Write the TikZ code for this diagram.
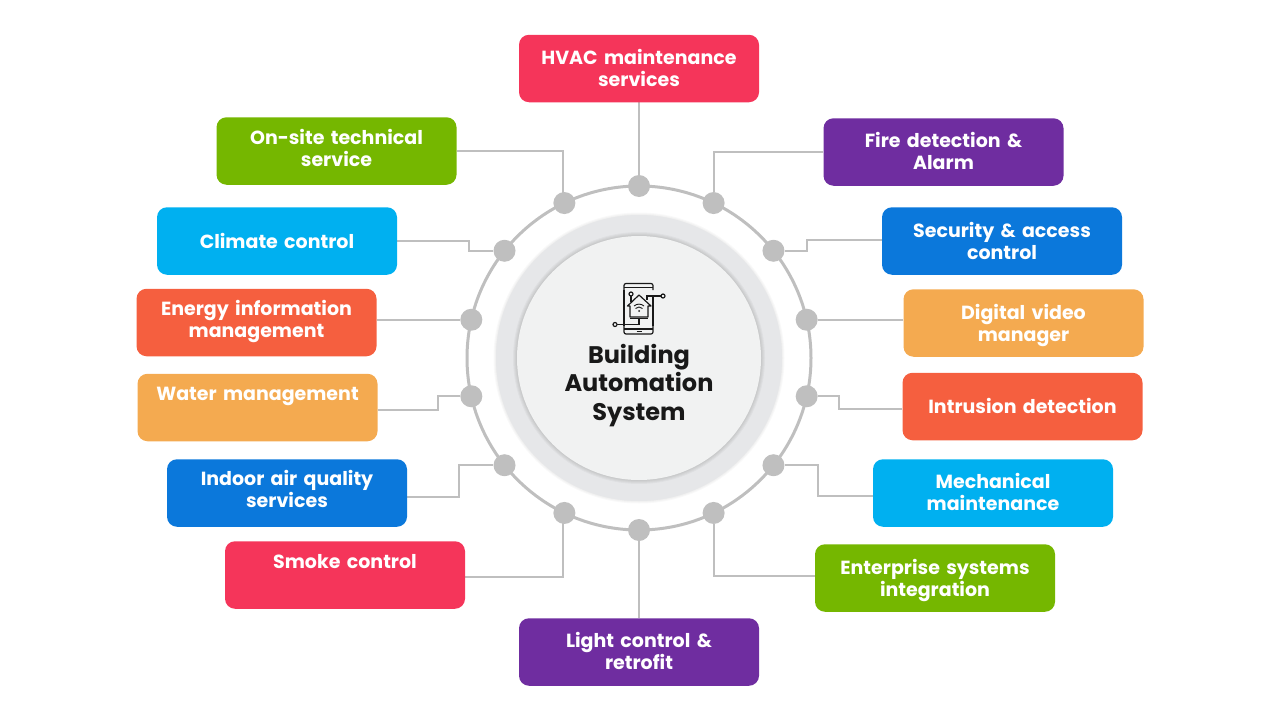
\documentclass[tikz,border=0pt]{standalone}
\usepackage{fontspec}
\setmainfont{Poppins}
\definecolor{crimson}{HTML}{F5355A}
\definecolor{grape}{HTML}{6F2DA0}
\definecolor{leaf}{HTML}{75B700}
\definecolor{royal}{HTML}{0B78DB}
\definecolor{sky}{HTML}{00B0F0}
\definecolor{coral}{HTML}{F55F3F}
\definecolor{sand}{HTML}{F4AA50}
\definecolor{wiregray}{HTML}{BFBFBF}
\definecolor{rimgray}{HTML}{E6E7E9}
\definecolor{facegray}{HTML}{F1F2F2}
\usetikzlibrary{calc, backgrounds}
\tikzset{
	tile/.style={minimum width=240pt, minimum height=67.5pt, rounded corners=10pt, inner sep=0pt,
		text width=236pt, align=center, text=white, font=\bfseries\fontsize{19}{22}\selectfont},
	lift/.style={execute at end node={\par\kern #1pt}},
	dot/.style={circle, fill=wiregray, minimum size=22pt, inner sep=0pt},
	wire/.style={draw=wiregray, line width=2.2pt},
	ring/.style={draw=wiregray, line width=3pt},
	glyph/.style={draw=black!90, line width=1.2pt}
}

\begin{document}
\begin{tikzpicture}[x=1pt, y=-1pt]
	\useasboundingbox (0,0) rectangle (1280,720);
	\node[circle, minimum size=244pt, inner sep=0pt] (hub) at (639,358) {};

	% soft rims of the two discs
	\foreach \r in {145.5,144.5,143.5}
		\fill[black, opacity=0.025] (hub) circle (\r pt);
	\fill[rimgray] (hub) circle (143pt);
	\foreach \r in {126,125,...,122}
		\fill[black, opacity=0.03] (hub) circle (\r pt);
	\fill[facegray] (hub) circle (122pt);

	% tiles, clockwise from the top
	\node[tile, fill=crimson, lift=2] (hvac) at (639,68.5) {HVAC maintenance\\services};
	\node[tile, fill=grape, lift=2] (fire) at (943.5,152) {Fire detection \&\\Alarm};
	\node[tile, fill=royal] (security) at (1002,241) {Security \& access\\control};
	\node[tile, fill=sand, lift=-4] (video) at (1023.5,323) {Digital video\\manager};
	\node[tile, fill=coral, lift=2] (intrusion) at (1022.5,406.5) {Intrusion detection};
	\node[tile, fill=sky, lift=2] (mechanical) at (993,493) {Mechanical\\maintenance};
	\node[tile, fill=leaf, lift=-4] (enterprise) at (935,578) {Enterprise systems\\integration};
	\node[tile, fill=grape, lift=2] (light) at (639,652) {Light control \&\\retrofit};
	\node[tile, fill=crimson, lift=6] (smoke) at (345,575) {Smoke control\\~};
	\node[tile, fill=royal, lift=8] (indoor) at (287,493) {Indoor air quality\\services};
	\node[tile, fill=sand, lift=6] (water) at (257.5,407.5) {Water management\\~};
	\node[tile, fill=coral, lift=3] (energy) at (256.5,322.5) {Energy information\\management};
	\node[tile, fill=sky] (climate) at (277,241) {Climate control};
	\node[tile, fill=leaf, lift=6] (onsite) at (336.5,151) {On-site technical\\service};

	% dots on the ring
	\foreach \i in {0,...,13}
		\node[dot] (dot\i) at ([shift={({-90+\i*360/14}:172)}]hub.center) {};

	\begin{scope}[on background layer]
		\draw[ring] (hub) circle (172pt);
		\draw[wire] (hvac) -- (dot0);
		\draw[wire] (fire) -| (dot1);
		\draw[wire] ([yshift=1pt]security.west) -- ++(-75,0) |- (dot2);
		\draw[wire] (video.west |- dot3) -- (dot3);
		\draw[wire] ([yshift=-2.5pt]intrusion.west) -- ++(-63,0) |- (dot4);
		\draw[wire] ([yshift=-3pt]mechanical.west) -- ++(-55,0) |- (dot5);
		\draw[wire] ([yshift=2pt]enterprise.west) -| (dot6);
		\draw[wire] (light) -- (dot7);
		\draw[wire] ([yshift=-2pt]smoke.east) -| ([xshift=-1.4pt]dot8.center);
		\draw[wire] ([yshift=-4pt]indoor.east) -- ++(52,0) |- (dot9);
		\draw[wire] ([yshift=-2.5pt]water.east) -- ++(60,0) |- (dot10);
		\draw[wire] (energy.east |- dot11) -- (dot11);
		\draw[wire] (climate.east) -- ++(72,0) |- (dot12);
		\draw[wire] (onsite) -| ([xshift=-1.4pt]dot13.center);
	\end{scope}

	% phone and house
	\draw[glyph, rounded corners=2pt] (624,290) -- (624,283.5) -- (653,283.5) -- (653,290);
	\draw[glyph, rounded corners=2pt] (624,326) -- (624,334) -- (653,334) -- (653,326);
	\draw[glyph] (624,287.5) -- (653,287.5) (624,329) -- (653,329);
	\draw[glyph] (624,290) -- (624,326) (653,296) -- (653,326);
	\draw[glyph, line width=1.5pt] (636.5,331.5) -- (641.5,331.5);
	\draw[glyph, line join=round] (627.5,306) -- (639,295) -- (651,306) -- (648,306) -- (648,317) -- (630,317) -- (630,306) -- cycle;
	\draw[glyph] (630,318.5) -- (648,318.5);
	\draw[glyph] (639,318.5) -- (639,324.5) -- (617,324.5);
	\draw[glyph] (647,300) -- (647,296) -- (661,296);
	\draw[glyph] (631,296) -- (631,302);
	\draw[glyph, fill=facegray] (615,324.5) circle (2pt);
	\draw[glyph, fill=facegray] (663,296) circle (2pt);
	\draw[glyph, fill=facegray] (631,294) circle (2pt);
	\draw[glyph, line width=0.9pt] (634,306) .. controls (637,303.5) and (641,303.5) .. (644,306);
	\draw[glyph, line width=0.9pt] (635.5,308.5) .. controls (638,306.5) and (640,306.5) .. (642.5,308.5);
	\fill[black!90] (639,311) circle (1pt);

	\node[inner sep=0pt, align=center, text=black!90, font=\bfseries\fontsize{24}{28.5}\selectfont] (title) at (639,385.5) {Building\\Automation\\System};
\end{tikzpicture}
\end{document}
